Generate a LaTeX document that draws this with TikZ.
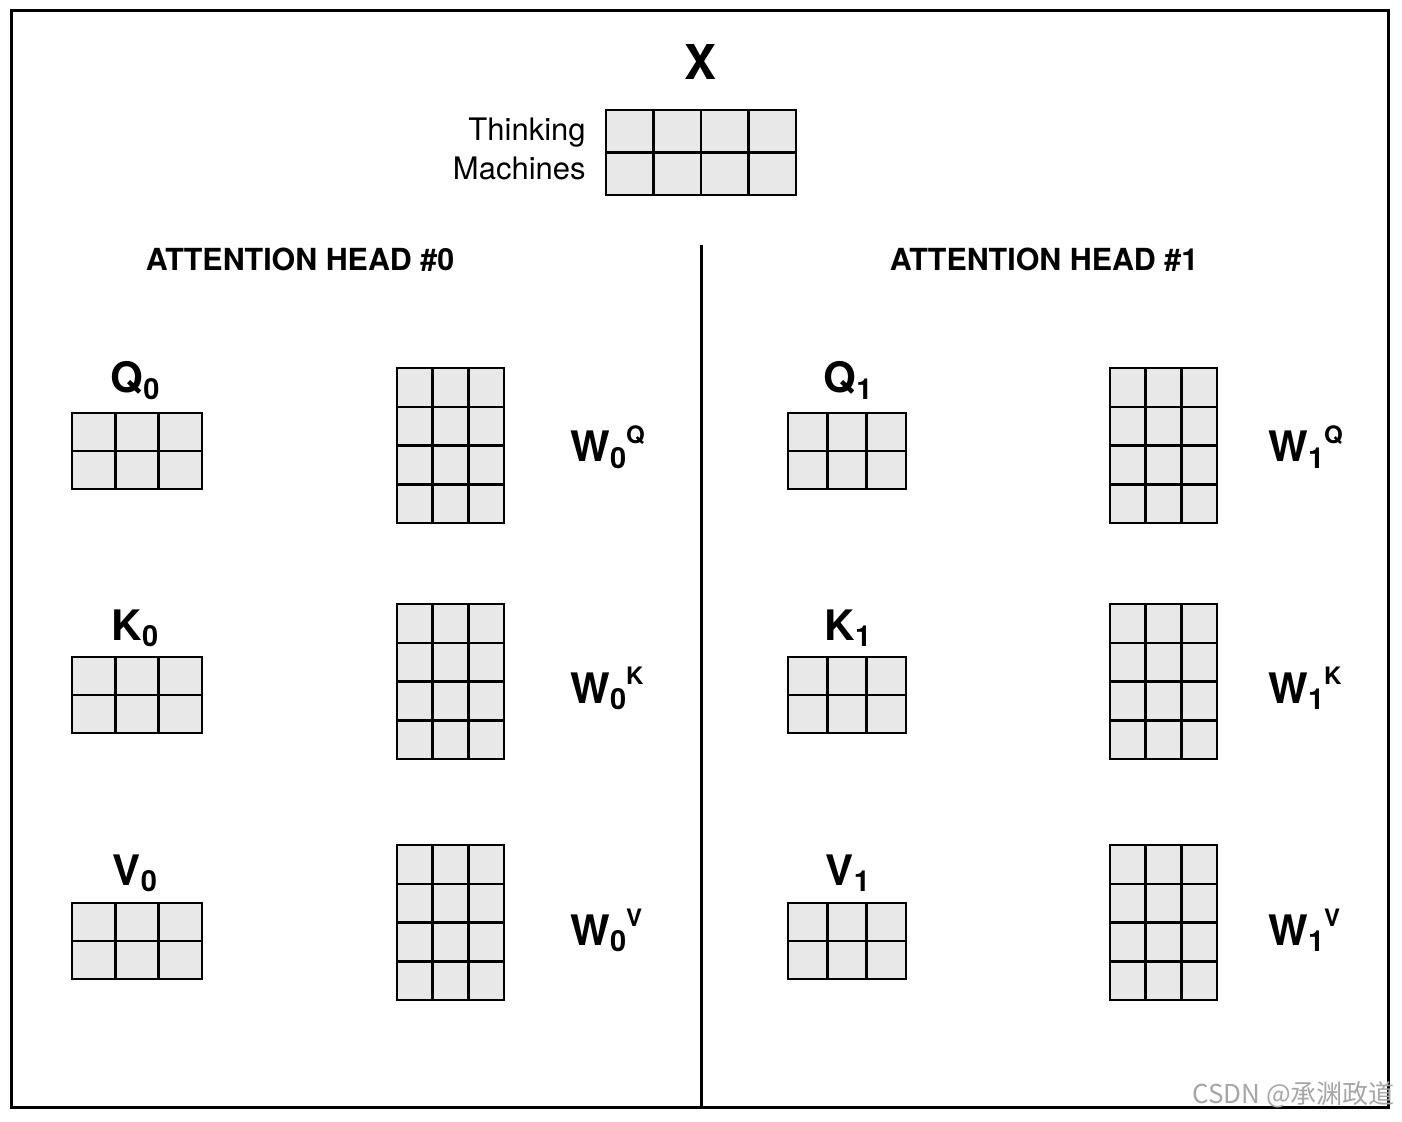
\documentclass[tikz,border=0pt]{standalone}
\usepackage{fontspec}
\setmainfont{TeX Gyre Heros}
\newfontfamily\cjk{Noto Sans CJK SC}
\usepackage{tikz}
\usetikzlibrary{positioning}

\tikzset{
    cell/.style={draw, line width=1.25pt, fill=black!9, inner sep=0pt},
    lbl/.style={font=\fontsize{21}{24}\selectfont\bfseries, inner sep=0pt},
    head/.style={font=\fontsize{15.2}{18}\selectfont\bfseries, inner sep=0pt},
    frame/.style={line width=1.5pt}
}

% one matrix: name, left, top, columns, rows, cell width, cell height (px)
\newcommand{\gridmat}[7]{%
    \foreach \col in {1,...,#4} {
        \foreach \row in {1,...,#5} {
            \node[cell, minimum width={#6*0.5pt}, minimum height={#7*0.5pt}]
                (#1-\row-\col) at ({#2+(\col-0.5)*#6}, {#3+(\row-0.5)*#7}) {};
        }
    }
}
\newcommand{\lowidx}[1]{\raisebox{-0.3ex}{\fontsize{14.5}{14}\selectfont #1}}
\newcommand{\upidx}[1]{\raisebox{0.8ex}{\fontsize{12}{12}\selectfont #1}}

\begin{document}
\begin{tikzpicture}[x=0.5pt, y=-0.5pt]
        \useasboundingbox (0,0) rectangle (1402,1122);

        % Frame and divider
        \draw[frame] (11,11) rectangle (1388,1107);
        \coordinate (divtop) at (701,245);
        \coordinate (divbot) at (701,1107);
        \draw[frame] (divtop) -- (divbot);

        % Input X
        \node[lbl, font=\fontsize{24}{28}\selectfont\bfseries, anchor=base] (xlbl) at (700,80) {X};
        \gridmat{x}{606}{110}{4}{2}{47.5}{42.5}
        \node[anchor=east, align=right, inner sep=0pt, font=\fontsize{15.5}{19.5}\selectfont] (words) at (586,149) {Thinking\\Machines};

        % Headings
        \node[head, anchor=base] (head0) at (300,271) {ATTENTION HEAD \#0};
        \node[head, anchor=base] (head1) at (1044,271) {ATTENTION HEAD \#1};

        % Head #0
        \gridmat{q0}{72}{413}{3}{2}{43.3}{38}
        \gridmat{k0}{72}{657}{3}{2}{43.3}{38}
        \gridmat{v0}{72}{903}{3}{2}{43.3}{38}
        \gridmat{wq0}{397}{368}{3}{4}{35.7}{38.8}
        \gridmat{wk0}{397}{604}{3}{4}{35.7}{38.8}
        \gridmat{wv0}{397}{845}{3}{4}{35.7}{38.8}
        \node[lbl, anchor=base] (q0lbl) at (135,393) {Q\lowidx{0}};
        \node[lbl, anchor=base] (k0lbl) at (135,640) {K\lowidx{0}};
        \node[lbl, anchor=base] (v0lbl) at (135,885) {V\lowidx{0}};
        \node[lbl, anchor=base west] (wq0lbl) at (570,462) {W\lowidx{0}\upidx{Q}};
        \node[lbl, anchor=base west] (wk0lbl) at (570,703) {W\lowidx{0}\upidx{K}};
        \node[lbl, anchor=base west] (wv0lbl) at (570,945) {W\lowidx{0}\upidx{V}};

        % Head #1
        \gridmat{q1}{788}{413}{3}{2}{39.3}{38}
        \gridmat{k1}{788}{657}{3}{2}{39.3}{38}
        \gridmat{v1}{788}{903}{3}{2}{39.3}{38}
        \gridmat{wq1}{1110}{368}{3}{4}{35.7}{38.8}
        \gridmat{wk1}{1110}{604}{3}{4}{35.7}{38.8}
        \gridmat{wv1}{1110}{845}{3}{4}{35.7}{38.8}
        \node[lbl, anchor=base] (q1lbl) at (848,393) {Q\lowidx{1}};
        \node[lbl, anchor=base] (k1lbl) at (848,640) {K\lowidx{1}};
        \node[lbl, anchor=base] (v1lbl) at (848,885) {V\lowidx{1}};
        \node[lbl, anchor=base west] (wq1lbl) at (1268,462) {W\lowidx{1}\upidx{Q}};
        \node[lbl, anchor=base west] (wk1lbl) at (1268,703) {W\lowidx{1}\upidx{K}};
        \node[lbl, anchor=base west] (wv1lbl) at (1268,945) {W\lowidx{1}\upidx{V}};

        % Watermark
        \node[anchor=base east, inner sep=0pt, text=black!35, font=\cjk\fontsize{13}{15}\selectfont] (mark) at (1395,1103) {CSDN @承渊政道};
    \end{tikzpicture}
\end{document}
